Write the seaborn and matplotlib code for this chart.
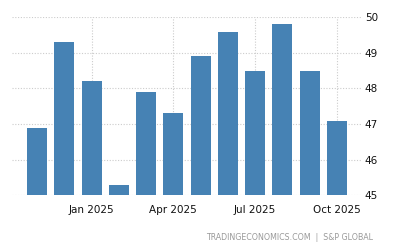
import matplotlib
matplotlib.use("Agg")
import matplotlib.pyplot as plt
import seaborn as sns
import pandas as pd

months = ["Nov 2024", "Dec 2024", "Jan 2025", "Feb 2025", "Mar 2025", "Apr 2025",
          "May 2025", "Jun 2025", "Jul 2025", "Aug 2025", "Sep 2025", "Oct 2025"]
values = [46.9, 49.3, 48.2, 45.3, 47.9, 47.3, 48.9, 49.6, 48.5, 49.8, 48.5, 47.1]
tick_labels = ["Jan 2025", "Apr 2025", "Jul 2025", "Oct 2025"]
y_ticks = [45, 46, 47, 48, 49, 50]

sns.set_style("white")
plt.rcParams['font.family'] = ['DejaVu Sans']

df = pd.DataFrame({"month": months, "value": values})

fig = plt.figure(figsize=(4, 2.5), dpi=100)
ax = fig.add_axes([0.03, 0.2188, 0.875, 0.712])

sns.barplot(data=df, x="month", y="value", color="#4682B4", saturation=1,
            width=0.73, ax=ax, zorder=3, linewidth=0, edgecolor="none")

ax.set_ylim(45, 50)
ax.set_xlim(-0.92, 11.92)
ax.set_yticks(y_ticks)
ax.set_yticklabels([str(v) for v in y_ticks])
ax.yaxis.tick_right()
ax.set_xticks([months.index(m) for m in tick_labels])
ax.set_xticklabels(tick_labels)
ax.set_xlabel("")
ax.set_ylabel("")

for s in ax.spines.values():
    s.set_visible(False)

ax.grid(True, axis="both", color="#cccccc", linestyle=(0, (1, 1.5)), linewidth=0.8, zorder=0)
ax.set_axisbelow(True)
ax.tick_params(axis="x", length=3, color="#cccccc", labelsize=7.5, labelcolor="#111111", pad=4)
ax.tick_params(axis="y", length=0, labelsize=7.5, labelcolor="#111111", pad=2)

fig.text(0.932, 0.048, "TRADINGECONOMICS.COM  |  S&P GLOBAL", ha="right", va="center",
         fontsize=5.7, color="#999999")

fig.savefig("out.png", dpi=100)
